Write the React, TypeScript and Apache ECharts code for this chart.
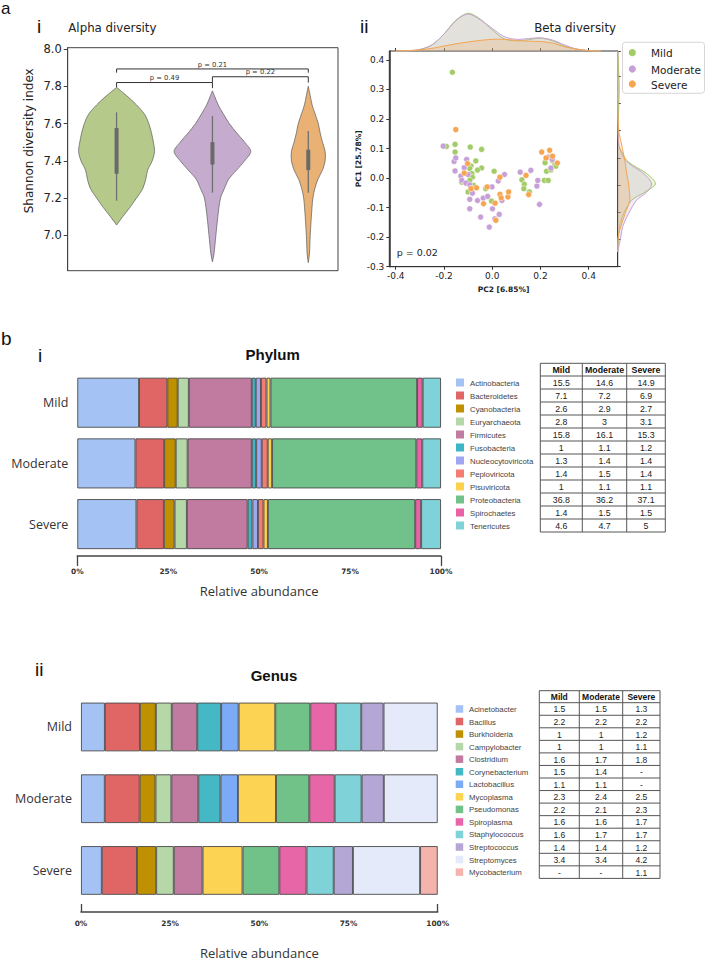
import React, { useEffect, useRef } from 'react';
import * as echarts from 'echarts';

// ---------- data ----------
const groups = ['Mild', 'Moderate', 'Severe'];
const groupColors = ['#a3cc66', '#c6a0d6', '#f6a550'];
const violinColors = ['#b5ca8a', '#c5abce', '#e9b173'];

// violin profiles (Shannon index, relative half-width)
const mildViolinY = [7.055, 7.1, 7.15, 7.2, 7.25, 7.3, 7.35, 7.4, 7.45, 7.5, 7.55, 7.6, 7.65, 7.7, 7.75, 7.794];
const mildViolinD = [0, 16, 35, 52, 68, 76, 81, 93, 99, 96, 91, 84, 73, 52, 26, 0];
const moderateViolinY = [6.858, 6.9, 7.0, 7.1, 7.2, 7.25, 7.3, 7.35, 7.4, 7.45, 7.5, 7.55, 7.6, 7.65, 7.7, 7.75, 7.775];
const moderateViolinD = [0, 4, 9, 14, 21, 31, 42, 63, 84, 100, 84, 63, 44, 29, 15, 5, 0];
const severeViolinY = [6.853, 6.9, 7.0, 7.1, 7.2, 7.25, 7.3, 7.35, 7.4, 7.45, 7.5, 7.55, 7.6, 7.65, 7.7, 7.75, 7.8];
const severeViolinD = [0, 3, 5, 8, 12, 17, 25, 37, 44, 44, 37, 31, 26, 18, 10, 5, 0];
const boxLow = [7.33, 7.38, 7.35];
const boxHigh = [7.576, 7.5, 7.46];
const whiskerLow = [7.186, 7.229, 7.229];
const whiskerHigh = [7.66, 7.64, 7.56];
const alphaTicks = [7.0, 7.2, 7.4, 7.6, 7.8, 8.0];

const bracketFrom = [0, 0, 1];
const bracketTo = [1, 2, 2];
const bracketY = [7.82, 7.893, 7.851];
const bracketLeftEnd = [7.795, 7.873, 7.82];
const bracketRightEnd = [7.79, 7.873, 7.82];
const bracketLabel = ['p = 0.49', 'p = 0.21', 'p = 0.22'];

// PCoA points [PC2, PC1]
const mildPoints = [[-0.165, 0.358], [-0.19, 0.107], [-0.154, 0.114], [-0.154, 0.088], [-0.091, 0.105], [-0.044, 0.097], [-0.068, 0.058], [-0.088, 0.041], [-0.093, 0.032], [-0.044, 0.034], [-0.061, 0.027], [-0.084, 0.015], [-0.082, 0.003], [-0.093, -0.008], [-0.126, -0.014], [-0.1, -0.047], [-0.077, -0.025], [0.008, 0.023], [-0.027, -0.036], [-0.003, -0.078], [0.123, -0.006], [0.133, -0.021], [0.131, -0.036], [0.154, -0.047], [0.216, -0.008], [0.232, -0.008], [0.225, 0.023], [0.243, 0.028], [0.25, 0.058], [0.26, 0.046], [0.264, 0.04], [0.219, 0.052]];
const moderatePoints = [[-0.203, 0.108], [-0.158, 0.056], [-0.151, 0.068], [-0.154, 0.024], [-0.106, 0.063], [-0.116, 0.035], [-0.13, 0.007], [-0.126, -0.008], [-0.109, -0.017], [-0.1, 0.012], [-0.093, -0.023], [-0.084, -0.036], [-0.082, -0.051], [-0.093, -0.072], [-0.093, -0.104], [-0.061, -0.076], [-0.037, -0.068], [-0.019, -0.062], [-0.001, -0.03], [-0.048, -0.132], [-0.012, -0.166], [0.001, -0.104], [0.011, -0.138], [0.029, -0.123], [0.025, -0.01], [0.051, 0.012], [0.04, -0.076], [0.116, 0.02], [0.16, 0.026], [0.185, -0.027], [0.189, -0.008], [0.196, -0.089], [0.232, 0.071], [0.243, 0.034], [0.249, 0.063]];
const severePoints = [[-0.151, 0.164], [-0.102, 0.049], [-0.116, 0.017], [-0.088, -0.036], [-0.065, -0.033], [-0.021, -0.03], [-0.036, -0.087], [0.012, -0.085], [0.015, -0.143], [0.032, 0.003], [0.032, -0.055], [0.037, -0.067], [0.065, -0.064], [0.068, -0.047], [0.14, 0.009], [0.151, -0.056], [0.205, 0.088], [0.223, 0.068], [0.238, 0.094], [0.25, 0.074], [0.27, 0.051]];
const pcTicksX = [-0.4, -0.2, 0, 0.2, 0.4];
const pcTicksY = [-0.3, -0.2, -0.1, 0, 0.1, 0.2, 0.3, 0.4];

// marginal densities (relative)
const topX = [-0.4, -0.35, -0.3, -0.25, -0.2, -0.15, -0.1, -0.05, 0, 0.05, 0.1, 0.15, 0.2, 0.25, 0.3, 0.35, 0.4, 0.45];
const mildTop = [0, 0, 4, 16, 45, 82, 100, 85, 56, 32, 27, 30, 34, 27, 13, 5, 1, 0];
const moderateTop = [0, 0, 4, 16, 45, 81, 98, 83, 60, 38, 31, 33, 35, 29, 16, 5, 1, 0];
const severeTop = [0, 1, 3, 7, 13, 19, 24, 28, 31, 31, 28, 26, 25, 21, 11, 5, 1, 0];
const rightY = [-0.25, -0.2, -0.165, -0.12, -0.075, -0.05, -0.02, 0.015, 0.04, 0.06, 0.09, 0.11, 0.15, 0.2, 0.25, 0.3, 0.35, 0.4, 0.43];
const mildRight = [0, 2, 5, 16, 37, 69, 100, 77, 45, 24, 10, 3, 2, 2, 3, 4, 3, 1, 0];
const moderateRight = [0, 8, 13, 29, 50, 75, 90, 69, 40, 21, 8, 3, 1, 0, 0, 0, 0, 0, 0];
const severeRight = [0, 1, 8, 20, 32, 31, 29, 24, 21, 19, 14, 11, 4, 1, 0, 0, 0, 0, 0];

// Phylum
const phylumNames = ['Actinobacteria', 'Bacteroidetes', 'Cyanobacteria', 'Euryarchaeota', 'Firmicutes', 'Fusobacteria', 'Nucleocytoviricota', 'Peploviricota', 'Pisuviricota', 'Proteobacteria', 'Spirochaetes', 'Tenericutes'];
const phylumColors = ['#a4c2f4', '#e06666', '#bf9000', '#b6d7a8', '#c27ba0', '#3fb6c6', '#a0a6f2', '#f47c72', '#fdd14e', '#70c28a', '#e862a5', '#7ed2d8'];
const phylumMild = [15.5, 7.1, 2.6, 2.8, 15.8, 1, 1.3, 1.4, 1, 36.8, 1.4, 4.6];
const phylumModerate = [14.6, 7.2, 2.9, 3, 16.1, 1.1, 1.4, 1.5, 1.1, 36.2, 1.5, 4.7];
const phylumSevere = [14.9, 6.9, 2.7, 3.1, 15.3, 1.2, 1.4, 1.4, 1.1, 37.1, 1.5, 5];

// Genus
const genusNames = ['Acinetobacter', 'Bacillus', 'Burkholderia', 'Campylobacter', 'Clostridium', 'Corynebacterium', 'Lactobacillus', 'Mycoplasma', 'Pseudomonas', 'Spiroplasma', 'Staphylococcus', 'Streptococcus', 'Streptomyces', 'Mycobacterium'];
const genusColors = ['#a4c2f4', '#e06666', '#bf9000', '#b6d7a8', '#c27ba0', '#45b8c5', '#7baaf7', '#fcd352', '#71c288', '#e766a7', '#7fd3d8', '#b4a7d6', '#e4eafa', '#f5b3ad'];
const genusMild = [1.5, 2.2, 1, 1, 1.6, 1.5, 1.1, 2.3, 2.2, 1.6, 1.6, 1.4, 3.4, null];
const genusModerate = [1.5, 2.2, 1, 1, 1.7, 1.4, 1.1, 2.4, 2.1, 1.6, 1.7, 1.4, 3.4, null];
const genusSevere = [1.3, 2.2, 1.2, 1.1, 1.8, null, null, 2.5, 2.3, 1.7, 1.7, 1.2, 4.2, 1.1];
const pctTicks = [0, 25, 50, 75, 100];

// ---------- helpers ----------
const MPL = 'DejaVu Sans';
const PLOTLY = '"Open Sans", sans-serif';
const TAB = '"Liberation Sans", Arial, sans-serif';

function T(x: number, y: number, text: string, o: any = {}) {
  return {
    type: 'text', x, y, silent: true, rotation: o.rot ?? 0,
    style: {
      text, fontSize: o.size ?? 10, fontFamily: o.family ?? MPL, fontWeight: o.weight ?? 'normal',
      fill: o.color ?? '#222', align: o.align ?? 'left', verticalAlign: o.va ?? 'middle',
    },
  };
}
function L(x1: number, y1: number, x2: number, y2: number, color = '#555', w = 1) {
  return { type: 'line', silent: true, shape: { x1, y1, x2, y2 }, style: { stroke: color, lineWidth: w } };
}
function fmt(v: number | null) { return v == null ? '-' : String(v); }

function table(xs: number[], top: number, hb: number, rowH: number, cols: (number | null)[][], hSize: number, size: number) {
  const els: any[] = [];
  const n = cols[0].length;
  const bottom = hb + rowH * n;
  groups.forEach((g, c) => {
    els.push(T((xs[c] + xs[c + 1]) / 2, (top + hb) / 2 + 0.5, g, { size: hSize, family: TAB, weight: 'bold', align: 'center', color: '#111' }));
    cols[c].forEach((v, r) => {
      els.push(T((xs[c] + xs[c + 1]) / 2, hb + rowH * (r + 0.5) + 0.5, fmt(v), { size, family: TAB, align: 'center', color: '#222' }));
    });
  });
  els.push(L(xs[0], top, xs[3], top));
  els.push(L(xs[0], hb, xs[3], hb));
  for (let r = 1; r <= n; r++) els.push(L(xs[0], hb + rowH * r, xs[3], hb + rowH * r));
  xs.forEach((x) => els.push(L(x, top, x, bottom)));
  return els;
}
function legendBlock(names: string[], colors: string[], sqX: number, sq: number, txtX: number, y0: number, step: number, size: number) {
  const els: any[] = [];
  names.forEach((n, k) => {
    const cy = y0 + step * k;
    els.push({ type: 'rect', silent: true, shape: { x: sqX, y: cy - sq / 2, width: sq, height: sq }, style: { fill: colors[k] } });
    els.push(T(txtX, cy + 0.5, n, { size, family: TAB, color: '#444' }));
  });
  return els;
}
function normalize(arr: (number | null)[]) {
  const s = arr.reduce((a: number, b) => a + (b ?? 0), 0);
  return arr.map((v) => (v == null ? '-' : (v / s) * 100));
}

function buildOption() {
  const violinY = [mildViolinY, moderateViolinY, severeViolinY];
  const violinD = [mildViolinD, moderateViolinD, severeViolinD];
  const hw = 0.4 / 100;

  const violinSeries = {
    type: 'custom', xAxisIndex: 0, yAxisIndex: 0, silent: true, clip: false,
    data: groups.map((g, i) => [i, 7.4]),
    renderItem: (params: any, api: any) => {
      const i = params.dataIndex;
      const ys = violinY[i], ds = violinD[i];
      const left = ys.map((y, k) => api.coord([i - ds[k] * hw, y]));
      const right = ys.map((y, k) => api.coord([i + ds[k] * hw, y])).reverse();
      const c = api.coord([i, 7])[0];
      const wl = api.coord([i, whiskerLow[i]])[1], wh = api.coord([i, whiskerHigh[i]])[1];
      const bl = api.coord([i, boxLow[i]])[1], bh = api.coord([i, boxHigh[i]])[1];
      return {
        type: 'group', children: [
          { type: 'polygon', shape: { points: left.concat(right), smooth: 0.3 }, style: { fill: violinColors[i], stroke: '#5a5a5a', lineWidth: 0.7 } },
          { type: 'line', shape: { x1: c, y1: wl, x2: c, y2: wh }, style: { stroke: '#707070', lineWidth: 1.3 } },
          { type: 'rect', shape: { x: c - 2, y: bh, width: 4, height: bl - bh }, style: { fill: '#6a6a6a' } },
        ],
      };
    },
  };

  const bracketSeries = {
    type: 'custom', xAxisIndex: 0, yAxisIndex: 0, silent: true, clip: false,
    data: bracketFrom.map((f, i) => [f, bracketY[i]]),
    renderItem: (params: any, api: any) => {
      const i = params.dataIndex;
      const a = api.coord([bracketFrom[i], bracketY[i]]);
      const b = api.coord([bracketTo[i], bracketY[i]]);
      const ae = api.coord([bracketFrom[i], bracketLeftEnd[i]]);
      const be = api.coord([bracketTo[i], bracketRightEnd[i]]);
      return {
        type: 'group', children: [
          { type: 'polyline', shape: { points: [ae, a, b, be] }, style: { stroke: '#333', lineWidth: 1, fill: 'none' } },
          { type: 'text', x: (a[0] + b[0]) / 2, y: a[1] - 0.8, style: { text: bracketLabel[i], fontSize: 6.8, fontFamily: MPL, fill: '#333', align: 'center', verticalAlign: 'bottom' } },
        ],
      };
    },
  };

  const rgba = (hex: string, a: number) => {
    const n = parseInt(hex.slice(1), 16);
    return `rgba(${(n >> 16) & 255},${(n >> 8) & 255},${n & 255},${a})`;
  };
  const topD = [mildTop, moderateTop, severeTop];
  const rightD = [mildRight, moderateRight, severeRight];
  const topSeries = groups.map((g, gi) => ({
    type: 'custom', xAxisIndex: 2, yAxisIndex: 2, silent: true, clip: false, data: [[0, 0]],
    renderItem: (params: any, api: any) => {
      const pts = topX.map((x, k) => api.coord([x, topD[gi][k]]));
      const base = [api.coord([topX[topX.length - 1], 0]), api.coord([topX[0], 0])];
      return {
        type: 'group', children: [
          { type: 'polygon', shape: { points: pts.concat(base), smooth: 0.25 }, style: { fill: rgba(groupColors[gi], 0.22) } },
          { type: 'polyline', shape: { points: pts, smooth: 0.3 }, style: { stroke: groupColors[gi], lineWidth: 1, fill: 'none' } },
        ],
      };
    },
  }));
  const rightSeries = groups.map((g, gi) => ({
    type: 'custom', xAxisIndex: 3, yAxisIndex: 3, silent: true, clip: false, data: [[0, 0]],
    renderItem: (params: any, api: any) => {
      const pts = rightY.map((y, k) => api.coord([rightD[gi][k], y]));
      const base = [api.coord([0, rightY[rightY.length - 1]]), api.coord([0, rightY[0]])];
      return {
        type: 'group', children: [
          { type: 'polygon', shape: { points: pts.concat(base), smooth: 0.25 }, style: { fill: rgba(groupColors[gi], 0.22) } },
          { type: 'polyline', shape: { points: pts, smooth: 0.3 }, style: { stroke: groupColors[gi], lineWidth: 1, fill: 'none' } },
        ],
      };
    },
  }));

  const scatterSeries = [mildPoints, moderatePoints, severePoints].map((pts, gi) => ({
    type: 'scatter', name: groups[gi], xAxisIndex: 1, yAxisIndex: 1, data: pts, symbolSize: 6, silent: true,
    itemStyle: { color: groupColors[gi], borderColor: '#fff', borderWidth: 0.5, opacity: 1 },
  }));

  const pm = normalize(phylumMild), pmo = normalize(phylumModerate), ps = normalize(phylumSevere);
  const phylumSeries = phylumNames.map((n, k) => ({
    type: 'bar', name: n, stack: 'phylum', xAxisIndex: 4, yAxisIndex: 5, barWidth: 50, silent: true,
    data: [pm[k], pmo[k], ps[k]],
    itemStyle: { color: phylumColors[k], borderColor: '#4a4a4a', borderWidth: 0.9 },
  }));
  const gm = normalize(genusMild), gmo = normalize(genusModerate), gs = normalize(genusSevere);
  const genusSeries = genusNames.map((n, k) => ({
    type: 'bar', name: n, stack: 'genus', xAxisIndex: 5, yAxisIndex: 6, barWidth: 48.7, silent: true,
    data: [gm[k], gmo[k], gs[k]],
    itemStyle: { color: genusColors[k], borderColor: '#4a4a4a', borderWidth: 0.9 },
  }));

  const pctAxis = (grid: number, offset: number, tickInside: boolean, tickLen: number, labelMargin: number, nameGap: number) => ({
    type: 'value', gridIndex: grid, min: 0, max: 100, offset,
    axisLine: { show: true, onZero: false, lineStyle: { color: '#444', width: 1.6 } },
    axisTick: { show: true, customValues: [0, 100], inside: tickInside, length: tickLen, lineStyle: { color: '#444', width: 1.3 } },
    axisLabel: { customValues: pctTicks, formatter: (v: number) => `${v}%`, fontSize: 7.4, fontWeight: 'bold', fontFamily: MPL, color: '#333', margin: labelMargin },
    splitLine: { show: false },
    name: 'Relative abundance', nameLocation: 'middle', nameGap,
    nameTextStyle: { fontSize: 13, fontFamily: PLOTLY, color: '#333' },
  });
  const catAxis = (grid: number) => ({
    type: 'category', gridIndex: grid, data: groups, inverse: true,
    axisLine: { show: false }, axisTick: { show: false },
    axisLabel: { fontSize: 12.5, fontFamily: PLOTLY, color: '#333', margin: 9 },
  });

  const graphics: any[] = [
    T(1, 0, 'a', { size: 17, family: TAB, color: '#111', va: 'top' }),
    T(37, 26.5, 'i', { size: 19, family: TAB, color: '#111' }),
    T(68.3, 27.5, 'Alpha diversity', { size: 11.8, color: '#222' }),
    T(29, 140.8, 'Shannon diversity index', { size: 12, rot: Math.PI / 2, align: 'center', color: '#222' }),
    T(360, 26.5, 'ii', { size: 19, family: TAB, color: '#111' }),
    T(616, 27.5, 'Beta diversity', { size: 11.8, align: 'right', color: '#222' }),
    T(396.7, 252.3, 'p = 0.02', { size: 9.5, color: '#222' }),
    T(1, 338, 'b', { size: 19, family: TAB, color: '#111' }),
    T(38, 355.5, 'i', { size: 19, family: TAB, color: '#111' }),
    T(272.7, 354, 'Phylum', { size: 15, family: TAB, weight: 'bold', align: 'center', color: '#111' }),
    T(35, 669.5, 'ii', { size: 19, family: TAB, color: '#111' }),
    T(274, 675.8, 'Genus', { size: 15, family: TAB, weight: 'bold', align: 'center', color: '#111' }),
    { type: 'rect', silent: true, shape: { x: 622.5, y: 42.3, width: 82, height: 51, r: 3 }, style: { fill: '#fff', stroke: '#d6d6d6', lineWidth: 1 } },
  ];
  [52.7, 69, 84].forEach((cy, gi) => {
    graphics.push({ type: 'circle', silent: true, shape: { cx: 632.3, cy, r: 3.6 }, style: { fill: groupColors[gi] } });
    graphics.push(T(651, cy + 0.5, groups[gi], { size: 10.5, color: '#222' }));
  });
  graphics.push(...legendBlock(phylumNames, phylumColors, 456, 8, 470, 382.5, 13, 7.8));
  graphics.push(...table([540.3, 582.3, 626.7, 665.3], 363.3, 376, 13, [phylumMild, phylumModerate, phylumSevere], 8.8, 8.8));
  graphics.push(...legendBlock(genusNames, genusColors, 455.7, 7.5, 469, 702.7 + 12.55 * 0.5, 12.55, 7.8));
  graphics.push(...table([539.3, 579.3, 622.7, 660], 690.7, 702.7, 12.55, [genusMild, genusModerate, genusSevere], 8.5, 8.5));

  return {
    animation: false,
    grid: [
      { left: 67.7, top: 47.7, width: 270.3, height: 223, show: true, borderColor: '#444', borderWidth: 1 },
      { left: 389.3, top: 51, width: 228.4, height: 215.7, show: true, borderColor: '#333', borderWidth: 1 },
      { left: 389.3, top: 10, width: 228.4, height: 41 },
      { left: 617.7, top: 51, width: 40, height: 215.7 },
      { left: 77.3, top: 372.35, width: 363.7, height: 182.1 },
      { left: 81, top: 691.1, width: 356.7, height: 223.2 },
    ],
    xAxis: [
      { type: 'value', gridIndex: 0, min: -0.51, max: 2.31, show: false, axisLine: { onZero: false } },
      {
        type: 'value', gridIndex: 1, min: -0.4265, max: 0.52,
        axisLine: { show: true, onZero: false, lineStyle: { color: '#333', width: 1 } },
        axisTick: { show: true, customValues: pcTicksX, length: 3, lineStyle: { color: '#333' } },
        axisLabel: { customValues: pcTicksX, formatter: (v: number) => v.toFixed(1), fontSize: 9, fontFamily: MPL, color: '#222', margin: 5 },
        splitLine: { show: false },
        name: 'PC2 [6.85%]', nameLocation: 'middle', nameGap: 19,
        nameTextStyle: { fontSize: 7.5, fontWeight: 'bold', fontFamily: MPL, color: '#222' },
      },
      {
        type: 'value', gridIndex: 2, min: -0.4265, max: 0.52,
        axisLine: { show: false, onZero: false }, axisLabel: { show: false }, splitLine: { show: false },
        axisTick: { show: true, customValues: pcTicksX, inside: true, length: 3, lineStyle: { color: '#333' } },
      },
      { type: 'value', gridIndex: 3, min: 0, max: 106, show: false, axisLine: { onZero: false } },
      pctAxis(4, 1.5, false, 10, 12, 29),
      pctAxis(5, 5.7, true, 8, 8, 34),
    ],
    yAxis: [
      {
        type: 'value', gridIndex: 0, min: 6.81, max: 8.007,
        axisLine: { show: true, onZero: false, lineStyle: { color: '#444' } },
        axisTick: { show: true, customValues: alphaTicks, length: 4, lineStyle: { color: '#444' } },
        axisLabel: { customValues: alphaTicks, formatter: (v: number) => v.toFixed(1), fontSize: 11.5, fontFamily: MPL, color: '#222', margin: 6 },
        splitLine: { show: false },
      },
      {
        type: 'value', gridIndex: 1, min: -0.3, max: 0.43,
        axisLine: { show: true, onZero: false, lineStyle: { color: '#333', width: 1.5 } },
        axisTick: { show: true, customValues: pcTicksY, length: 3, lineStyle: { color: '#333' } },
        axisLabel: { customValues: pcTicksY, formatter: (v: number) => v.toFixed(1), fontSize: 9, fontFamily: MPL, color: '#222', margin: 5 },
        splitLine: { show: false },
        name: 'PC1 [25.78%]', nameLocation: 'middle', nameGap: 26, nameRotate: 90,
        nameTextStyle: { fontSize: 7.5, fontWeight: 'bold', fontFamily: MPL, color: '#222' },
      },
      { type: 'value', gridIndex: 2, min: 0, max: 108.8, show: false, axisLine: { onZero: false } },
      { type: 'value', gridIndex: 3, min: -0.3, max: 0.43, show: false, position: 'right', axisLine: { onZero: false } },
      {
        type: 'value', gridIndex: 3, min: 0, max: 7.93, interval: 1, position: 'left',
        axisLine: { show: true, onZero: false, lineStyle: { color: '#333' } },
        axisTick: { show: true, inside: true, length: 3, lineStyle: { color: '#333' } },
        axisLabel: { show: false }, splitLine: { show: false },
      },
      catAxis(4),
      catAxis(5),
    ],
    series: [violinSeries, bracketSeries, ...topSeries, ...rightSeries, ...scatterSeries, ...phylumSeries, ...genusSeries],
    graphic: { elements: graphics },
  };
}

export default function App() {
  const ref = useRef<HTMLDivElement>(null);
  useEffect(() => {
    const chart = echarts.init(ref.current!, null, { renderer: 'svg' });
    chart.setOption(buildOption() as any);
    return () => chart.dispose();
  }, []);
  return <div ref={ref} style={{ position: 'absolute', left: 0, top: 0, width: 705, height: 960, background: '#fff' }} />;
}
